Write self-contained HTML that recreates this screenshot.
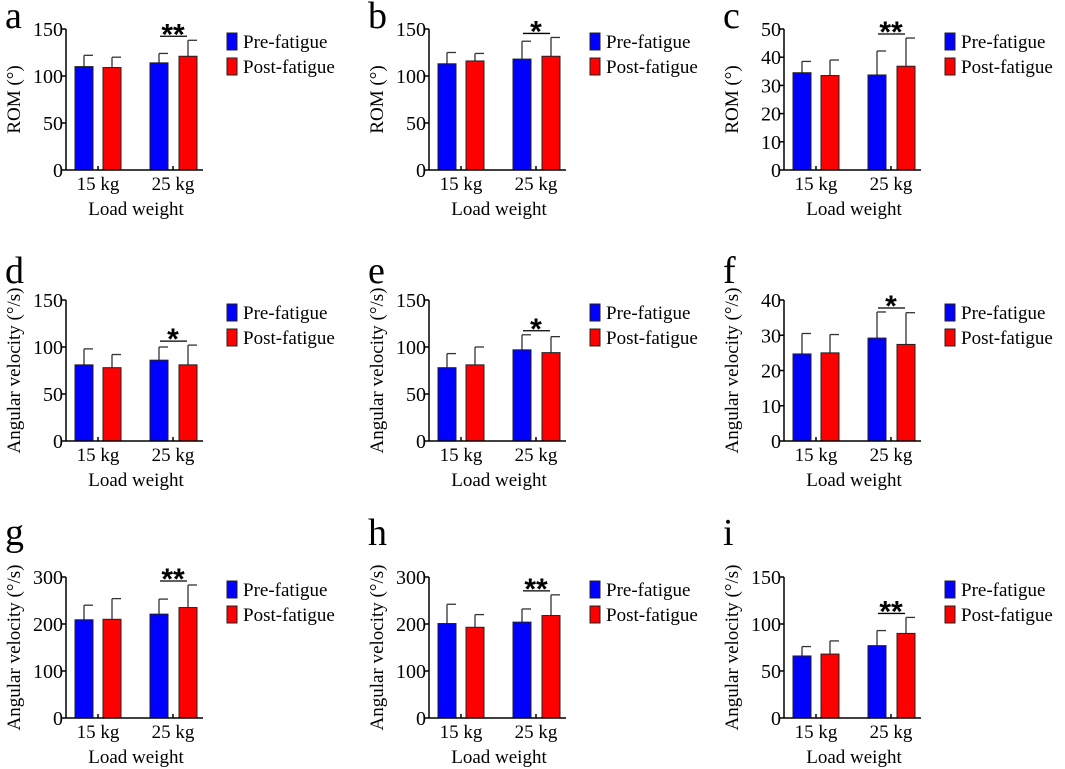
<!DOCTYPE html>
<html><head><meta charset="utf-8"><style>
html,body{margin:0;padding:0;background:#fff;}
svg{display:block;font-family:"Liberation Serif",serif;}
</style></head><body>
<svg id="fig" width="1065" height="769" viewBox="0 0 1065 769" xmlns="http://www.w3.org/2000/svg"></svg>
<script>
const panelLetters = ["a","b","c","d","e","f","g","h","i"];
const yTitles = ["ROM (°)","ROM (°)","ROM (°)","Angular velocity (°/s)","Angular velocity (°/s)","Angular velocity (°/s)","Angular velocity (°/s)","Angular velocity (°/s)","Angular velocity (°/s)"];
const yMax = [150,150,50,150,150,40,300,300,150];
const yStep = [50,50,10,50,50,10,100,100,50];
const categories = ["15 kg","25 kg"];
const seriesNames = ["Pre-fatigue","Post-fatigue"];
const preMean = [[110,114],[113,118],[34.5,33.7],[81,86],[78,97],[24.7,29.2],[209,221],[201,204],[66,77]];
const preErr  = [[12,10],[12,19],[4,8.5],[17,14],[15,16],[5.8,7.4],[31,32],[41,28],[10,16]];
const postMean= [[109,121],[116,121],[33.5,36.8],[78,81],[81,94],[25,27.4],[210,235],[193,218],[68,90]];
const postErr = [[11,17],[8,20],[5.5,10],[14,21],[19,17],[5.2,9],[44,48],[27,44],[14,17]];
const sigLabels = ["**","*","**","*","*","*","**","**","**"];

const NS="http://www.w3.org/2000/svg";
const svg=document.getElementById('fig');
function mk(tag,attrs,parent){const e=document.createElementNS(NS,tag);for(const k in attrs)e.setAttribute(k,attrs[k]);(parent||svg).appendChild(e);return e;}
const colX=[66,429,784], rowTop=[29,300,577], letterY=[28,283,545], H=141;
const colors=["#0000ff","#ff0000"];
for(let p=0;p<9;p++){
  const row=Math.floor(p/3);
  const ax=colX[p%3], top=rowTop[row], zero=top+H;
  const g=mk('g',{});
  
  
  const y=v=>zero-v/yMax[p]*H;
  const letter=mk('text',{x:ax-61,y:letterY[row],'font-size':38},g);letter.textContent=panelLetters[p];
  
  
  const yt=mk('text',{x:0,y:0,'font-size':19,'text-anchor':'middle',transform:`translate(${ax-46},${top+H/2}) rotate(-90)`},g);yt.textContent=yTitles[p];
  
  
  for(let v=0;v<=yMax[p];v+=yStep[p]){
    mk('line',{x1:ax-4,x2:ax,y1:y(v),y2:y(v),stroke:'#000','stroke-width':1.5},g);
    const t=mk('text',{x:ax-3,y:y(v)+7,'font-size':20,'text-anchor':'end'},g);t.textContent=v;
    
    
  }
  const offs=[[9,37],[84,113]];
  for(let c=0;c<2;c++){
    for(let s=0;s<2;s++){
      const m=s?postMean[p][c]:preMean[p][c], e=s?postErr[p][c]:preErr[p][c];
      const x=ax+offs[c][s], cx=x+9;
      mk('line',{x1:cx,x2:cx,y1:y(m),y2:y(m+e),stroke:'#333','stroke-width':1.3},g);
      mk('line',{x1:cx,x2:cx+9,y1:y(m+e),y2:y(m+e),stroke:'#333','stroke-width':1.3},g);
      const r=mk('rect',{x:x,y:y(m),width:18,height:zero-y(m),fill:colors[s],stroke:'#222','stroke-width':1},g);
      
      
    }
    const cl=mk('text',{x:ax+offs[c][0]+23,y:zero+20,'font-size':19,'text-anchor':'middle'},g);cl.textContent=categories[c];
    
    
    mk('line',{x1:ax+offs[c][0]+23,x2:ax+offs[c][0]+23,y1:zero,y2:zero-4,stroke:'#000','stroke-width':1.5},g);
  }
  mk('line',{x1:ax,x2:ax,y1:top,y2:zero,stroke:'#000','stroke-width':1.5},g);
  mk('line',{x1:ax,x2:ax+137,y1:zero,y2:zero,stroke:'#000','stroke-width':1.5},g);
  const xt=mk('text',{x:ax+70,y:zero+45,'font-size':19,'text-anchor':'middle'},g);xt.textContent="Load weight";
  
  
  const topErr=Math.max(preMean[p][1]+preErr[p][1],postMean[p][1]+postErr[p][1]);
  const sy=y(topErr)-4;
  mk('line',{x1:ax+94,x2:ax+121,y1:sy,y2:sy,stroke:'#000','stroke-width':1.3},g);
  const st=mk('text',{x:ax+107,y:sy+8,'font-size':30,'font-weight':'bold','text-anchor':'middle','font-family':'Liberation Sans,sans-serif'},g);st.textContent=sigLabels[p];
  
  
  for(let s=0;s<2;s++){
    const ly=top+4+s*25;
    const lr=mk('rect',{x:ax+161,y:ly,width:10,height:17,fill:colors[s],stroke:'#222','stroke-width':1},g);
    
    
    const lt=mk('text',{x:ax+177,y:ly+15,'font-size':19},g);lt.textContent=seriesNames[s];
    
    
  }
}
</script>
</body></html>
